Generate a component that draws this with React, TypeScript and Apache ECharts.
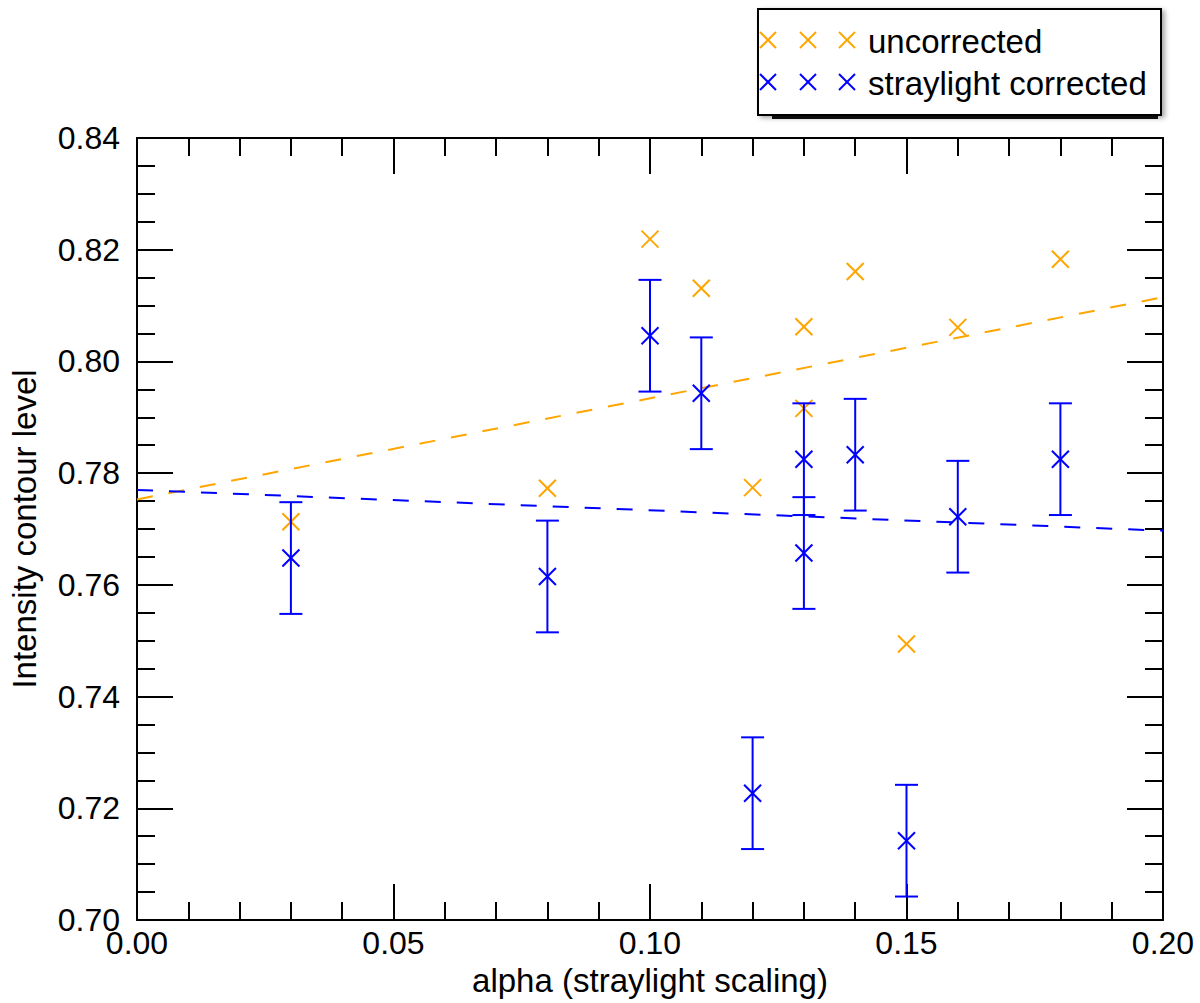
import { useRef, useEffect } from "react"
import * as echarts from "echarts"

// uncorrected contour levels
const alphaUncorr = [0.03, 0.08, 0.10, 0.11, 0.12, 0.13, 0.13, 0.14, 0.15, 0.16, 0.18]
const levelUncorr = [0.7713, 0.7773, 0.8219, 0.8131, 0.7774, 0.8062, 0.7916, 0.8161, 0.7494, 0.8061, 0.8183]

// straylight corrected contour levels, with error
const alphaCorr = [0.03, 0.08, 0.10, 0.11, 0.12, 0.13, 0.13, 0.14, 0.15, 0.16, 0.18]
const levelCorr = [0.7648, 0.7615, 0.8046, 0.7943, 0.7227, 0.7825, 0.7657, 0.7833, 0.7142, 0.7722, 0.7825]
const errCorr = [0.01, 0.01, 0.01, 0.01, 0.01, 0.01, 0.01, 0.01, 0.01, 0.01, 0.01]

// linear fits (end points)
const fitUncorr = [[0, 0.7753], [0.2, 0.8115]]
const fitCorr = [[0, 0.777], [0.2, 0.7697]]

const xTicks = [0, 0.05, 0.1, 0.15, 0.2]
const yTicks = [0.7, 0.72, 0.74, 0.76, 0.78, 0.8, 0.82, 0.84]

const ORANGE = "#ffa500"
const BLUE = "#0000ff"
const FONT = "'Liberation Sans', Arial, sans-serif"

function crossItem(color: string, size: number) {
  return (params: any, api: any) => {
    const p = api.coord([api.value(0), api.value(1)])
    const s = size
    const style = { stroke: color, lineWidth: 2 }
    return {
      type: "group",
      children: [
        { type: "line", shape: { x1: p[0] - s, y1: p[1] - s, x2: p[0] + s, y2: p[1] + s }, style },
        { type: "line", shape: { x1: p[0] - s, y1: p[1] + s, x2: p[0] + s, y2: p[1] - s }, style },
      ],
    }
  }
}

function errorItem(color: string) {
  return (params: any, api: any) => {
    const x = api.value(0)
    const y = api.value(1)
    const e = api.value(2)
    const top = api.coord([x, y + e])
    const bot = api.coord([x, y - e])
    const c = 11.5
    const style = { stroke: color, lineWidth: 2 }
    return {
      type: "group",
      children: [
        { type: "line", shape: { x1: top[0], y1: top[1], x2: bot[0], y2: bot[1] }, style },
        { type: "line", shape: { x1: top[0] - c, y1: top[1], x2: top[0] + c, y2: top[1] }, style },
        { type: "line", shape: { x1: bot[0] - c, y1: bot[1], x2: bot[0] + c, y2: bot[1] }, style },
      ],
    }
  }
}

function legendCross(cx: number, cy: number, color: string) {
  const s = 8
  const style = { stroke: color, lineWidth: 2 }
  return [
    { type: "line", shape: { x1: cx - s, y1: cy - s, x2: cx + s, y2: cy + s }, style },
    { type: "line", shape: { x1: cx - s, y1: cy + s, x2: cx + s, y2: cy - s }, style },
  ]
}

export default function App() {
  const chartRef = useRef<HTMLDivElement>(null)

  useEffect(() => {
    if (!chartRef.current) return
    const chart = echarts.init(chartRef.current, null, { renderer: "svg" })

    const axisLine = { show: true, onZero: false, lineStyle: { color: "#000", width: 2 } }
    const tickStyle = { color: "#000", width: 2 }
    const xCommon = {
      type: "value",
      min: xTicks[0],
      max: xTicks[xTicks.length - 1],
      interval: 0.05,
      axisLine,
      axisTick: { show: true, inside: true, length: 36, lineStyle: tickStyle },
      minorTick: { show: true, splitNumber: 5, length: 18, lineStyle: tickStyle },
      splitLine: { show: false },
    }
    const yCommon = {
      type: "value",
      min: yTicks[0],
      max: yTicks[yTicks.length - 1],
      interval: 0.02,
      axisLine,
      axisTick: { show: true, inside: true, length: 36, lineStyle: tickStyle },
      minorTick: { show: true, splitNumber: 4, length: 18, lineStyle: tickStyle },
      splitLine: { show: false },
    }

    const legendX = [768, 808, 847]

    chart.setOption({
      animation: false,
      backgroundColor: "#fff",
      textStyle: { fontFamily: FONT },
      grid: { left: 134, right: 37, top: 138, bottom: 83 },
      xAxis: [
        {
          ...xCommon,
          position: "bottom",
          name: "alpha (straylight scaling)",
          nameLocation: "middle",
          nameGap: 42,
          nameTextStyle: { fontSize: 33, color: "#000", fontFamily: FONT },
          axisLabel: {
            show: true,
            fontSize: 32,
            color: "#000",
            fontFamily: FONT,
            margin: 7,
            formatter: (v: number) => v.toFixed(2),
          },
        },
        { ...xCommon, position: "top", axisLabel: { show: false } },
      ],
      yAxis: [
        {
          ...yCommon,
          position: "left",
          name: "Intensity contour level",
          nameLocation: "middle",
          nameGap: 96,
          nameRotate: 90,
          nameTextStyle: { fontSize: 33, color: "#000", fontFamily: FONT },
          axisLabel: {
            show: true,
            fontSize: 32,
            color: "#000",
            fontFamily: FONT,
            margin: 17,
            formatter: (v: number) => v.toFixed(2),
          },
        },
        { ...yCommon, position: "right", axisLabel: { show: false } },
      ],
      series: [
        {
          type: "line",
          data: fitUncorr,
          symbol: "none",
          lineStyle: { color: ORANGE, width: 2, type: [16, 16] },
          z: 1,
        },
        {
          type: "line",
          data: fitCorr,
          symbol: "none",
          lineStyle: { color: BLUE, width: 2, type: [16, 16] },
          z: 1,
        },
        {
          type: "custom",
          renderItem: crossItem(ORANGE, 8.5),
          data: alphaUncorr.map((a, i) => [a, levelUncorr[i]]),
          z: 2,
        },
        {
          type: "custom",
          renderItem: errorItem(BLUE),
          data: alphaCorr.map((a, i) => [a, levelCorr[i], errCorr[i]]),
          z: 3,
        },
        {
          type: "custom",
          renderItem: crossItem(BLUE, 8.5),
          data: alphaCorr.map((a, i) => [a, levelCorr[i]]),
          z: 3,
        },
      ],
      graphic: [
        {
          type: "rect",
          shape: { x: 772, y: 14, width: 386, height: 105 },
          style: { fill: "#111" },
          z: 10,
        },
        {
          type: "rect",
          shape: { x: 758, y: 9, width: 403, height: 106 },
          style: {
            fill: "#fff",
            stroke: "#000",
            lineWidth: 2,
            shadowBlur: 5,
            shadowOffsetX: 3,
            shadowOffsetY: 2,
            shadowColor: "rgba(0,0,0,0.35)",
          },
          z: 11,
        },
        ...legendX.flatMap((x) => legendCross(x, 40, ORANGE)).map((g) => ({ ...g, z: 12 })),
        ...legendX.flatMap((x) => legendCross(x, 82, BLUE)).map((g) => ({ ...g, z: 12 })),
        {
          type: "text",
          x: 868,
          y: 41,
          style: { text: "uncorrected", fontSize: 33, fontFamily: FONT, fill: "#000", verticalAlign: "middle" },
          z: 12,
        },
        {
          type: "text",
          x: 868,
          y: 83,
          style: { text: "straylight corrected", fontSize: 33, fontFamily: FONT, fill: "#000", verticalAlign: "middle" },
          z: 12,
        },
      ],
    })

    return () => {
      chart.dispose()
    }
  }, [])

  return (
    <div
      ref={chartRef}
      style={{ position: "fixed", left: 0, top: 0, width: "1200px", height: "1003px" }}
    />
  )
}
